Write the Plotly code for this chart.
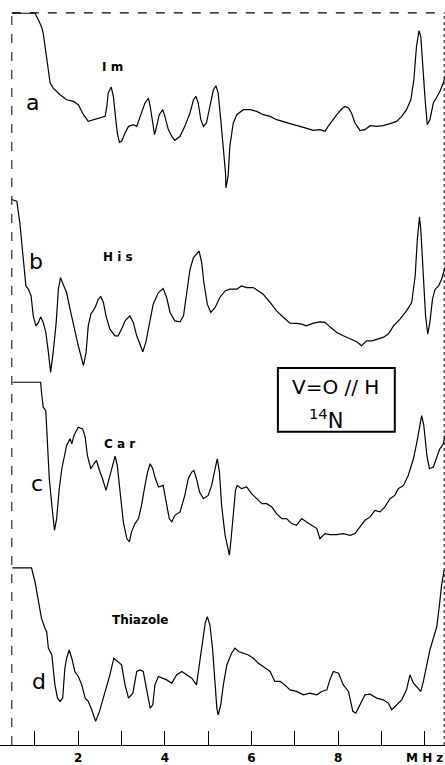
import plotly.graph_objects as go

# ---- data (frequency in MHz, signal in arbitrary units) ----
freq_a = [0.47, 1.00, 1.08, 1.15, 1.19, 1.27, 1.35, 1.42, 1.58, 1.73, 1.89, 2.00, 2.12, 2.23, 2.35, 2.50,
          2.62, 2.66, 2.69, 2.76, 2.81, 2.85, 2.90, 2.95, 3.00, 3.08, 3.16, 3.27, 3.35, 3.43, 3.54, 3.62,
          3.66, 3.72, 3.76, 3.81, 3.87, 3.95, 4.00, 4.08, 4.16, 4.23, 4.35, 4.46, 4.58, 4.66, 4.72, 4.77,
          4.83, 4.89, 4.96, 5.04, 5.12, 5.18, 5.23, 5.29, 5.35, 5.40, 5.41, 5.46, 5.50, 5.58, 5.66, 5.81,
          5.97, 6.12, 6.27, 6.43, 6.58, 6.81, 6.97, 7.12, 7.27, 7.43, 7.58, 7.70, 7.77, 7.85, 7.97, 8.08,
          8.16, 8.24, 8.31, 8.39, 8.51, 8.62, 8.74, 8.89, 9.04, 9.20, 9.35, 9.47, 9.58, 9.68, 9.75, 9.81,
          9.87, 9.91, 9.95, 10.01, 10.06, 10.12, 10.20, 10.28, 10.35, 10.43, 10.47]
sig_a = [186.7, 186.7, 180, 173.3, 166.7, 140, 116.7, 111.7, 105, 100, 98.3, 95, 85, 78.3, 80, 81.7,
         83.3, 93.3, 106.7, 112.7, 103.3, 86.7, 66.7, 57.3, 58.3, 66.7, 73.3, 75, 73.3, 83.3, 96.7, 101.7,
         93.3, 76.7, 65, 73.3, 85, 90, 83.3, 70, 63.3, 59.3, 63.3, 73.3, 86.7, 100, 103.3, 96.7,
         80, 73.3, 76.7, 93.3, 110, 114, 106.7, 80, 50, 26.7, 11.7, 23.3, 53.3, 76.7, 85, 90,
         90, 88.3, 85, 83.3, 80, 76.7, 75, 73.3, 71.7, 69.3, 70, 68.3, 73.3, 78.3, 85, 90.7,
         93.3, 91.7, 86.7, 76.7, 69, 70, 74, 73.3, 74, 76, 78.3, 83.3, 90, 100, 120, 153.3,
         169.3, 163.3, 133.3, 100, 75, 80, 96.7, 103.3, 108.3, 116.7, 123.3]

freq_b = [0.46, 0.58, 0.65, 0.73, 0.79, 0.85, 0.91, 0.96, 1.02, 1.08, 1.13, 1.19, 1.25, 1.31, 1.36, 1.42,
          1.49, 1.54, 1.59, 1.65, 1.73, 1.81, 1.89, 2.00, 2.12, 2.18, 2.23, 2.29, 2.39, 2.46, 2.52, 2.58,
          2.64, 2.73, 2.85, 2.92, 3.00, 3.08, 3.19, 3.27, 3.35, 3.43, 3.49, 3.56, 3.64, 3.73, 3.85, 3.96,
          4.04, 4.12, 4.23, 4.35, 4.43, 4.50, 4.58, 4.66, 4.79, 4.85, 4.90, 4.98, 5.06, 5.16, 5.27, 5.39,
          5.50, 5.66, 5.77, 5.89, 6.04, 6.16, 6.27, 6.43, 6.58, 6.74, 6.89, 7.04, 7.16, 7.27, 7.43, 7.58,
          7.70, 7.81, 7.97, 8.12, 8.28, 8.43, 8.54, 8.66, 8.78, 8.89, 9.04, 9.16, 9.28, 9.43, 9.58, 9.70,
          9.78, 9.83, 9.88, 9.91, 9.97, 10.02, 10.07, 10.12, 10.18, 10.24, 10.32, 10.39, 10.47]
sig_b = [190, 188.3, 166.7, 133.3, 103.3, 100, 93.3, 73.3, 63.3, 66.7, 72.3, 66.7, 56.7, 36.7, 16.7, 36.7,
         66.7, 100, 111.7, 105, 96.7, 80, 63.3, 43.3, 23.3, 36.7, 63.3, 75, 81.7, 90, 92.7, 86.7,
         73.3, 60, 53.3, 53.3, 60, 68.3, 73.3, 66.7, 53.3, 43.3, 37.3, 46.7, 63.3, 85, 96.7, 100.7,
         91.7, 76.7, 68.3, 67.3, 73.3, 93.3, 120, 131.7, 138.3, 126.7, 106.7, 85, 76.7, 81.7, 91.7, 98.3,
         100, 100, 103.3, 101.7, 101.7, 98.3, 95, 86.7, 78.3, 71.7, 66, 65.7, 65, 63.3, 66, 67.3,
         66.7, 62.3, 56.7, 53.3, 50, 47.3, 43.3, 48.3, 48.3, 50, 51.7, 55, 63.3, 70, 78.3, 86.7,
         113.3, 150, 172.7, 160, 116.7, 73.3, 55, 66.7, 90, 100, 103.3, 110, 121.7]

freq_c = [0.48, 1.13, 1.15, 1.19, 1.25, 1.29, 1.33, 1.39, 1.45, 1.50, 1.56, 1.62, 1.68, 1.73, 1.81, 1.85,
          1.90, 2.00, 2.10, 2.16, 2.21, 2.29, 2.36, 2.42, 2.49, 2.56, 2.64, 2.69, 2.77, 2.85, 2.90, 2.96,
          3.04, 3.12, 3.18, 3.23, 3.31, 3.39, 3.46, 3.54, 3.60, 3.66, 3.72, 3.77, 3.85, 3.96, 4.04, 4.10,
          4.16, 4.23, 4.35, 4.46, 4.54, 4.62, 4.67, 4.73, 4.80, 4.89, 5.00, 5.08, 5.16, 5.21, 5.26, 5.31,
          5.39, 5.44, 5.49, 5.53, 5.58, 5.63, 5.67, 5.77, 5.89, 6.00, 6.12, 6.24, 6.35, 6.47, 6.58, 6.70,
          6.81, 6.93, 7.04, 7.16, 7.27, 7.39, 7.51, 7.58, 7.70, 7.81, 7.97, 8.12, 8.28, 8.39, 8.51, 8.62,
          8.74, 8.85, 8.97, 9.08, 9.20, 9.31, 9.39, 9.51, 9.62, 9.74, 9.82, 9.88, 9.93, 9.98, 10.05, 10.11,
          10.20, 10.28, 10.35, 10.43, 10.47]
sig_c = [196.7, 196.7, 186.7, 171.7, 168.3, 133.3, 100, 73.3, 48.3, 60, 90, 110, 121.7, 133.3, 140, 135,
         143.3, 151.7, 150, 141.7, 123.3, 110, 115, 118.3, 108.3, 100, 88.3, 96.7, 111.7, 122.7, 113.3, 86.7,
         56.7, 40, 36.7, 46.7, 55, 60, 73.3, 93.3, 106.7, 115, 110, 101.7, 91.7, 93.3, 73.3, 60,
         56.7, 63.3, 66.7, 83.3, 100, 106.7, 108.3, 100, 86.7, 80, 83.3, 93.3, 110, 120, 106.7, 73.3,
         43.3, 31.7, 23.3, 40, 66.7, 88.3, 93.3, 90, 91.7, 85, 80, 75, 75, 71.7, 65, 60,
         60, 55, 53.3, 60, 56.7, 53.3, 50, 40, 45, 44, 44, 45, 43.3, 45, 51.7, 58.3,
         61.7, 68.3, 66.7, 71.7, 80, 83.3, 90, 93.3, 103.3, 120, 136.7, 150, 163.3, 153.3, 123.3, 110,
         111.7, 121.7, 130, 135, 143.3]

freq_d = [0.48, 0.92, 1.00, 1.08, 1.15, 1.23, 1.27, 1.31, 1.39, 1.42, 1.46, 1.52, 1.58, 1.64, 1.69, 1.73,
          1.79, 1.85, 1.92, 2.00, 2.08, 2.16, 2.23, 2.31, 2.40, 2.49, 2.58, 2.66, 2.73, 2.82, 2.92, 3.00,
          3.08, 3.16, 3.26, 3.35, 3.43, 3.50, 3.58, 3.66, 3.72, 3.77, 3.85, 3.96, 4.04, 4.16, 4.27, 4.39,
          4.50, 4.62, 4.73, 4.81, 4.87, 4.93, 4.98, 5.04, 5.10, 5.16, 5.20, 5.23, 5.29, 5.35, 5.43, 5.54,
          5.62, 5.70, 5.81, 5.93, 6.04, 6.16, 6.27, 6.43, 6.54, 6.66, 6.77, 6.89, 7.04, 7.20, 7.35, 7.51,
          7.62, 7.74, 7.81, 7.89, 8.01, 8.12, 8.24, 8.34, 8.41, 8.51, 8.62, 8.74, 8.89, 9.04, 9.16, 9.24,
          9.35, 9.47, 9.58, 9.66, 9.74, 9.81, 9.91, 9.97, 10.05, 10.12, 10.20, 10.28, 10.34, 10.39, 10.45]
sig_d = [190.7, 190.7, 176.7, 156.7, 140, 130, 126.7, 110, 103.3, 90, 73.3, 60, 56.7, 60, 90, 100,
         108.3, 100, 86.7, 81.7, 73.3, 60, 56.7, 48.3, 36.7, 46.7, 60, 73.3, 83.3, 100, 96.7, 93.3,
         73.3, 60, 65, 86.7, 88.3, 86.7, 68.3, 50, 53.3, 73.3, 81.7, 80, 78.3, 75, 83.3, 86.7,
         83.3, 80, 73.3, 100, 120, 135, 141.7, 133.3, 110, 73.3, 50, 43.3, 53.3, 73.3, 93.3, 105,
         110, 106.7, 105, 103.3, 100, 95, 91.7, 86.7, 76.7, 76.7, 73.3, 68.3, 66.7, 63.3, 65, 63.3,
         66.7, 68.3, 78.3, 86.7, 85, 73.3, 66.7, 46.7, 45, 53.3, 63.3, 64, 60, 58.3, 55, 48.3,
         53.3, 58.3, 68.3, 83.3, 75, 71.7, 66.7, 76.7, 93.3, 108.3, 120, 131.7, 153.3, 173.3, 188.3]

trace_labels = ["a", "b", "c", "d"]
sample_names = ["I m", "H i s", "C a r", "Thiazole"]
offsets = [565, 375, 185, 5]
tick_vals = [2, 4, 6, 8, 10]
tick_text = ["2", "4", "6", "8", "M H z"]

freqs = [freq_a, freq_b, freq_c, freq_d]
sigs = [sig_a, sig_b, sig_c, sig_d]

fig = go.Figure()
for f, s, off in zip(freqs, sigs, offsets):
    fig.add_trace(go.Scatter(x=f, y=[v + off for v in s], mode="lines",
                             line=dict(color="black", width=1.2), showlegend=False,
                             hoverinfo="skip"))

# letter labels and sample names
letter_pos = [(0.95, 662), (1.02, 503), (1.05, 280), (1.09, 82)]
name_pos = [(2.78, 698), (2.92, 507), (2.96, 320), (3.42, 143)]
for lab, (x, y) in zip(trace_labels, letter_pos):
    fig.add_annotation(x=x, y=y, text=lab, showarrow=False,
                       font=dict(family="DejaVu Sans", size=22, color="black"))
for lab, (x, y) in zip(sample_names, name_pos):
    fig.add_annotation(x=x, y=y, text="<b>" + lab + "</b>", showarrow=False,
                       font=dict(family="DejaVu Sans", size=12, color="black"))

# boxed legend text
fig.add_shape(type="rect", x0=6.61, x1=9.31, y0=332, y1=396,
              line=dict(color="black", width=2), fillcolor="white", layer="below")
fig.add_annotation(x=7.93, y=377, text="V=O // H", showarrow=False,
                   font=dict(family="DejaVu Sans", size=20, color="black"))
fig.add_annotation(x=7.73, y=345, text="<sup>14</sup>N", showarrow=False,
                   font=dict(family="DejaVu Sans", size=21, color="black"))

# frame (dashed left/top)
fig.add_shape(type="line", x0=0.465, x1=0.465, y0=18, y1=752,
              line=dict(color="black", width=1, dash="dash"))
fig.add_shape(type="line", x0=0.465, x1=10.47, y0=752, y1=752,
              line=dict(color="black", width=1.2, dash="dash"))
fig.add_shape(type="line", x0=10.45, x1=10.45, y0=18, y1=752,
              line=dict(color="black", width=1, dash="dot"))

fig.update_layout(
    width=445, height=765,
    margin=dict(l=0, r=0, t=0, b=18),
    paper_bgcolor="white", plot_bgcolor="white",
    xaxis=dict(range=[0.192, 10.469], showgrid=False, zeroline=False,
               showline=True, linecolor="black", linewidth=1.2,
               tickvals=tick_vals, ticktext=["<b>" + t + "</b>" for t in tick_text],
               ticks="inside", ticklen=14,
               tickcolor="black", tickwidth=1, ticklabelstandoff=1,
               minor=dict(ticks="inside", dtick=1, tick0=0, ticklen=14, tickcolor="black", tickwidth=1),
               tickfont=dict(family="DejaVu Sans", size=12, color="black")),
    yaxis=dict(range=[18, 765], showgrid=False, zeroline=False, showticklabels=False,
               showline=False),
)

fig.write_html("out.html")
